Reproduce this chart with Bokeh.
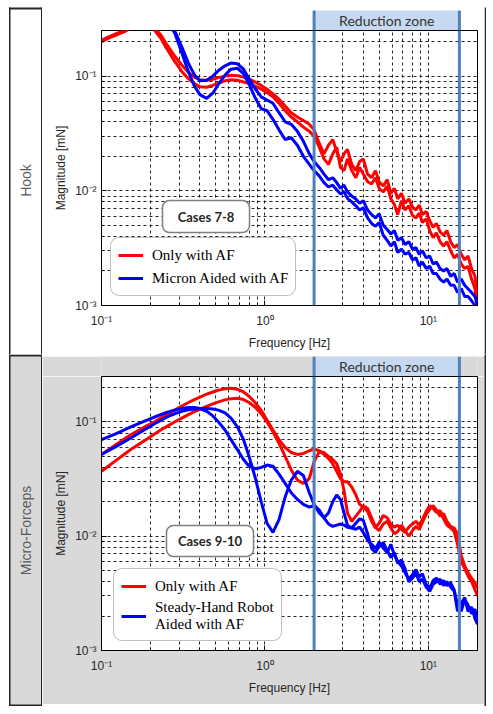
import math
from bokeh.plotting import figure
from bokeh.models import (FixedTicker, Range1d, BoxAnnotation, Label, Legend, LegendItem, Span)
from bokeh.layouts import column, row
from bokeh.embed import file_html
from bokeh.resources import INLINE

# ---------------- data ----------------
freq = [0.10, 0.11, 0.12, 0.13, 0.14, 0.15, 0.17, 0.19, 0.21, 0.23,
        0.25, 0.28, 0.31, 0.34, 0.37, 0.40, 0.44, 0.48, 0.52, 0.57,
        0.62, 0.68, 0.74, 0.80, 0.87, 0.95, 1.03, 1.12, 1.22, 1.33,
        1.45, 1.58, 1.72, 1.87, 2.00, 2.15, 2.30, 2.45, 2.60, 2.75,
        2.90, 3.05, 3.20, 3.40, 3.60, 3.80, 4.00, 4.25, 4.50, 4.75,
        5.00, 5.30, 5.60, 5.90, 6.20, 6.50, 6.85, 7.20, 7.60, 8.00,
        8.40, 8.80, 9.20, 9.70, 10.2, 10.7, 11.2, 11.8, 12.4, 13.0,
        13.7, 14.4, 15.1, 15.9, 16.7, 17.5, 18.4, 19.3, 20.0]

# Hook (cases 7-8)
hook_af_a = [0.206, 0.219, 0.231, 0.242, 0.252, 0.27, 0.30, 0.29, 0.265, 0.23,
             0.19, 0.15, 0.125, 0.108, 0.098, 0.093, 0.092, 0.094, 0.097, 0.100,
             0.102, 0.101, 0.098, 0.094, 0.089, 0.083, 0.077, 0.070, 0.063, 0.055,
             0.048, 0.044, 0.041, 0.038, 0.034, 0.026, 0.021, 0.025, 0.028, 0.022,
             0.018, 0.021, 0.023, 0.017, 0.015, 0.018, 0.019, 0.014, 0.013, 0.015,
             0.012, 0.011, 0.0125, 0.0095, 0.0105, 0.0085, 0.0095, 0.0078, 0.0085, 0.0072,
             0.0068, 0.0075, 0.0062, 0.0066, 0.0055, 0.0048, 0.0052, 0.0044, 0.0041, 0.0045,
             0.0036, 0.0032, 0.0034, 0.0028, 0.0025, 0.0027, 0.0021, 0.0018, 0.0012]
hook_af_b = [0.200, 0.213, 0.225, 0.236, 0.246, 0.262, 0.29, 0.28, 0.255, 0.215,
             0.175, 0.135, 0.110, 0.095, 0.086, 0.081, 0.080, 0.083, 0.087, 0.091,
             0.093, 0.092, 0.089, 0.086, 0.082, 0.077, 0.072, 0.066, 0.058, 0.050,
             0.044, 0.040, 0.036, 0.033, 0.030, 0.024, 0.019, 0.017, 0.021, 0.024,
             0.016, 0.015, 0.019, 0.015, 0.013, 0.016, 0.014, 0.012, 0.0115, 0.013,
             0.0105, 0.0098, 0.011, 0.0085, 0.0076, 0.0062, 0.0082, 0.0068, 0.0074, 0.0061,
             0.0058, 0.0064, 0.0053, 0.0057, 0.0045, 0.0039, 0.0043, 0.0036, 0.0033, 0.0036,
             0.0030, 0.0026, 0.0028, 0.0023, 0.0021, 0.0022, 0.0017, 0.0014, 0.0010]
hook_micron_a = [0.45, 0.46, 0.47, 0.47, 0.46, 0.45, 0.44, 0.42, 0.39, 0.35,
                 0.32, 0.25, 0.18, 0.13, 0.103, 0.091, 0.092, 0.100, 0.112, 0.123,
                 0.130, 0.128, 0.115, 0.095, 0.078, 0.066, 0.062, 0.058, 0.048, 0.040,
                 0.038, 0.033, 0.027, 0.021, 0.018, 0.016, 0.014, 0.0125, 0.013, 0.0118,
                 0.0105, 0.0112, 0.0098, 0.0090, 0.0085, 0.0078, 0.0082, 0.0068, 0.0062, 0.0058,
                 0.0063, 0.0050, 0.0046, 0.0042, 0.0045, 0.0037, 0.0039, 0.0034, 0.0036, 0.0031,
                 0.0032, 0.0028, 0.0030, 0.0026, 0.0027, 0.0023, 0.0024, 0.0021, 0.0020, 0.0021,
                 0.0018, 0.0019, 0.0016, 0.0017, 0.0015, 0.0014, 0.0013, 0.0012, 0.0010]
hook_micron_b = [0.42, 0.43, 0.44, 0.44, 0.43, 0.42, 0.41, 0.39, 0.36, 0.33,
                 0.30, 0.24, 0.16, 0.11, 0.082, 0.069, 0.064, 0.071, 0.085, 0.102,
                 0.115, 0.117, 0.105, 0.085, 0.065, 0.052, 0.050, 0.042, 0.034, 0.028,
                 0.029, 0.025, 0.020, 0.017, 0.015, 0.0135, 0.0118, 0.0108, 0.0112, 0.0102,
                 0.0094, 0.0098, 0.0086, 0.0080, 0.0074, 0.0068, 0.0071, 0.0058, 0.0052, 0.0049,
                 0.0053, 0.0041, 0.0037, 0.0033, 0.0036, 0.0029, 0.0031, 0.0028, 0.0029, 0.0025,
                 0.0026, 0.0022, 0.0024, 0.0021, 0.0022, 0.0019, 0.0019, 0.0017, 0.0016, 0.0017,
                 0.0015, 0.0015, 0.0013, 0.0014, 0.0012, 0.0012, 0.0011, 0.0010, 0.0009]

# Micro-Forceps (cases 9-10)
forceps_af_a = [0.052, 0.057, 0.062, 0.067, 0.072, 0.077, 0.085, 0.093, 0.100, 0.108,
                0.116, 0.127, 0.138, 0.148, 0.157, 0.165, 0.175, 0.183, 0.190, 0.195,
                0.197, 0.193, 0.183, 0.168, 0.148, 0.126, 0.104, 0.085, 0.070, 0.060,
                0.054, 0.052, 0.053, 0.056, 0.058, 0.056, 0.052, 0.048, 0.043, 0.037,
                0.032, 0.030, 0.030, 0.027, 0.023, 0.019, 0.018, 0.0165, 0.0135, 0.0118,
                0.0130, 0.0152, 0.0145, 0.0128, 0.0120, 0.0125, 0.0115, 0.0108, 0.0120, 0.0128,
                0.0135, 0.0125, 0.0140, 0.0165, 0.0185, 0.0175, 0.0162, 0.0168, 0.0142, 0.0125,
                0.0118, 0.0110, 0.0085, 0.0060, 0.0052, 0.0045, 0.0040, 0.0034, 0.0030]
forceps_af_b = [0.037, 0.041, 0.045, 0.049, 0.053, 0.057, 0.064, 0.071, 0.078, 0.085,
                0.091, 0.100, 0.108, 0.116, 0.123, 0.129, 0.137, 0.144, 0.150, 0.156,
                0.160, 0.161, 0.157, 0.148, 0.135, 0.118, 0.100, 0.082, 0.065, 0.050,
                0.038, 0.031, 0.029, 0.032, 0.045, 0.055, 0.054, 0.050, 0.047, 0.043,
                0.035, 0.025, 0.016, 0.0135, 0.015, 0.0165, 0.0185, 0.0175, 0.0145, 0.0120,
                0.0112, 0.0128, 0.0135, 0.0118, 0.0105, 0.0110, 0.0125, 0.0112, 0.0100, 0.0112,
                0.0122, 0.0115, 0.0132, 0.0155, 0.0172, 0.0185, 0.0170, 0.0150, 0.0158, 0.0135,
                0.0122, 0.0118, 0.0105, 0.0068, 0.0055, 0.0048, 0.0043, 0.0039, 0.0035]
forceps_shr_a = [0.070, 0.074, 0.078, 0.082, 0.086, 0.090, 0.097, 0.104, 0.110, 0.116,
                 0.121, 0.127, 0.131, 0.134, 0.134, 0.131, 0.124, 0.113, 0.100, 0.085,
                 0.070, 0.057, 0.047, 0.041, 0.039, 0.040, 0.042, 0.041, 0.035, 0.029,
                 0.024, 0.021, 0.019, 0.018, 0.0185, 0.017, 0.0145, 0.0128, 0.0122, 0.0125,
                 0.0128, 0.0125, 0.0120, 0.0118, 0.0115, 0.0120, 0.0108, 0.0092, 0.0085, 0.0078,
                 0.0088, 0.0079, 0.0072, 0.0085, 0.0068, 0.0060, 0.0055, 0.0048, 0.0042, 0.0046,
                 0.0051, 0.0044, 0.0047, 0.0038, 0.0035, 0.0041, 0.0043, 0.0038, 0.0041, 0.0037,
                 0.0039, 0.0034, 0.0025, 0.0022, 0.0028, 0.0025, 0.0021, 0.0023, 0.0018]
forceps_shr_b = [0.052, 0.056, 0.060, 0.064, 0.068, 0.072, 0.080, 0.088, 0.096, 0.103,
                 0.110, 0.118, 0.124, 0.128, 0.130, 0.131, 0.131, 0.130, 0.127, 0.120,
                 0.108, 0.090, 0.070, 0.050, 0.033, 0.020, 0.013, 0.0108, 0.014, 0.022,
                 0.031, 0.037, 0.034, 0.024, 0.019, 0.016, 0.0145, 0.016, 0.020, 0.023,
                 0.021, 0.016, 0.0125, 0.0118, 0.013, 0.0142, 0.0138, 0.0105, 0.0078, 0.0072,
                 0.0082, 0.0088, 0.0075, 0.0065, 0.0072, 0.0058, 0.0062, 0.0052, 0.0040, 0.0043,
                 0.0048, 0.0040, 0.0042, 0.0036, 0.0033, 0.0038, 0.0040, 0.0042, 0.0037, 0.0040,
                 0.0036, 0.0033, 0.0022, 0.0026, 0.0029, 0.0022, 0.0024, 0.0019, 0.0017]

x_ticks = [0.1, 1, 10]
x_tick_labels = ["10\u207b\u00b9", "10\u2070", "10\u00b9"]
x_minor = [0.2, 0.3, 0.4, 0.5, 0.6, 0.7, 0.8, 0.9, 2, 3, 4, 5, 6, 7, 8, 9, 20]
y_ticks = [0.001, 0.01, 0.1]
y_tick_labels = ["10\u207b\u00b3", "10\u207b\u00b2", "10\u207b\u00b9"]
y_minor = [0.002, 0.003, 0.004, 0.005, 0.006, 0.007, 0.008, 0.009,
           0.02, 0.03, 0.04, 0.05, 0.06, 0.07, 0.08, 0.09, 0.2]
reduction_zone = [2.0, 15.5]
x_limits = [0.1, 20]
y_limits = [0.001, 0.25]

# ---------------- styling / layout constants ----------------
RED = "#ff0000"
BLUE = "#0000ff"
ZONE_LINE = "#4f81bd"
ZONE_FILL = "#c6d9f1"
FRAME = "#262626"
PANEL_GRAY = "#d9d9d9"

SIDE_W = 42        # side label column (page x 0..42)
MID_W = 442        # plots column (page x 42..484)
STRIP_W = 2        # right border strip (page x 484..486)
PLOT_L = 59        # frame left inside middle column  -> page x 101
PLOT_R = 7         # frame right margin               -> page x 477

HAS_BR_BOX = "border_radius" in BoxAnnotation.properties()
HAS_BR_LEG = "border_radius" in Legend.properties()


def blank(w, h, bg="white"):
    p = figure(width=w, height=h, x_range=Range1d(0, 1), y_range=Range1d(0, 1),
               x_axis_location=None, y_axis_location=None,
               output_backend="svg", toolbar_location=None, min_border=0)
    p.min_border_left = p.min_border_right = p.min_border_top = p.min_border_bottom = 0
    p.outline_line_color = None
    p.background_fill_color = bg
    p.border_fill_color = bg
    p.grid.visible = False
    return p


def sbox(p, l, r, b, t, color=FRAME, xunits="screen", **kw):
    args = dict(left=l, right=r, bottom=b, top=t, left_units=xunits, right_units=xunits,
                bottom_units="screen", top_units="screen", fill_color=color, fill_alpha=1,
                line_alpha=0)
    args.update(kw)
    ba = BoxAnnotation(**args)
    p.add_layout(ba)
    return ba


def side(h, text, text_y, gray, top_y, bottom_y):
    # top_y / bottom_y: border line positions in pixels from the figure top
    p = blank(SIDE_W, h)
    low = h - bottom_y - 2 if bottom_y is not None else 0
    if gray:
        sbox(p, 9, SIDE_W, low, h - top_y, color=PANEL_GRAY)
    sbox(p, 8.5, 10, low, h - top_y)                       # outer left line
    sbox(p, SIDE_W - 1.5, SIDE_W, low, h - top_y)          # column divider
    sbox(p, 8.5, SIDE_W, h - top_y - 2, h - top_y)          # top line
    if bottom_y is not None:
        sbox(p, 8.5, SIDE_W, low, low + 2)                  # bottom line
    p.add_layout(Label(x=25, y=h - text_y, x_units="screen", y_units="screen", text=text,
                       angle=math.pi / 2, text_align="center", text_baseline="middle",
                       text_font="Liberation Sans", text_font_size="14px", text_color="#595959"))
    return p


def header(h, bg, zone_top):
    p = figure(width=MID_W, height=h, x_axis_type="log", x_range=Range1d(*x_limits),
               y_range=Range1d(0, 1), x_axis_location=None, y_axis_location=None,
               output_backend="svg", toolbar_location=None,
               min_border_left=PLOT_L, min_border_right=PLOT_R, min_border_top=0,
               min_border_bottom=0)
    p.outline_line_color = None
    p.background_fill_color = bg
    p.border_fill_color = bg
    p.grid.visible = False
    sbox(p, reduction_zone[0], reduction_zone[1], -1, h - zone_top, color=ZONE_FILL, xunits="data")
    for zx in reduction_zone:
        sbox(p, zx, zx, -1, h - zone_top, xunits="data", fill_alpha=0,
             line_color=ZONE_LINE, line_alpha=1, line_width=3)
    p.add_layout(Label(x=math.sqrt(reduction_zone[0] * reduction_zone[1]), y=(h - zone_top) / 2,
                       x_units="data", y_units="screen", text="Reduction zone",
                       text_align="center", text_baseline="middle",
                       text_font="Lato", text_font_size="14px", text_color="#333333"))
    return p


def plot(height, mb_bottom, bg, series, labels, leg_loc, cases_text, cases_rect):
    p = figure(width=MID_W, height=height, x_axis_type="log", y_axis_type="log",
               x_range=Range1d(*x_limits), y_range=Range1d(*y_limits),
               output_backend="svg", toolbar_location=None,
               min_border_left=PLOT_L, min_border_right=PLOT_R, min_border_top=0,
               min_border_bottom=mb_bottom)
    p.border_fill_color = bg
    p.background_fill_color = "white"
    p.outline_line_color = "black"
    p.outline_line_width = 1

    xt = FixedTicker(ticks=x_ticks, minor_ticks=x_minor)
    yt = FixedTicker(ticks=y_ticks, minor_ticks=y_minor)
    p.xaxis.ticker = xt
    p.yaxis.ticker = yt
    p.xgrid.ticker = xt
    p.ygrid.ticker = yt
    xo, yo = {}, {}
    for t, s in zip(x_ticks, x_tick_labels):
        xo[t] = s
        xo[str(t)] = s
    for t, s in zip(y_ticks, y_tick_labels):
        yo[t] = s
        yo[str(t)] = s
    p.xaxis.major_label_overrides = xo
    p.yaxis.major_label_overrides = yo

    for ax in (p.xaxis, p.yaxis):
        ax.axis_line_color = "black"
        ax.major_tick_in = 5
        ax.major_tick_out = 0
        ax.minor_tick_in = 3
        ax.minor_tick_out = 0
        ax.major_tick_line_color = "black"
        ax.minor_tick_line_color = "black"
        ax.major_label_text_font = "Liberation Sans"
        ax.major_label_text_font_size = "12px"
        ax.major_label_text_color = "#262626"
        ax.axis_label_text_font = "Liberation Sans"
        ax.axis_label_text_font_size = "12px"
        ax.axis_label_text_font_style = "normal"
        ax.axis_label_text_color = "#262626"
    p.xaxis.axis_label = "Frequency [Hz]"
    p.yaxis.axis_label = "Magnitude [mN]"
    p.xaxis.major_label_standoff = 8
    p.yaxis.major_label_standoff = 5
    p.xaxis.axis_label_standoff = 5
    p.yaxis.axis_label_standoff = 4

    for g in (p.xgrid, p.ygrid):
        g.grid_line_color = "black"
        g.grid_line_dash = "3 3"
        g.grid_line_alpha = 0.85
        g.minor_grid_line_color = "black"
        g.minor_grid_line_dash = "3 3"
        g.minor_grid_line_alpha = 0.85

    rends = []
    for ys, col in series:
        rends.append(p.line(freq, ys, line_color=col, line_width=3))

    for zx in reduction_zone:
        p.add_layout(Span(location=zx, dimension="height", line_color=ZONE_LINE, line_width=3))

    # "Cases" box
    cl, cr, cb, ct = cases_rect
    kw = dict(fill_color="white", fill_alpha=1, line_color="#7f7f7f", line_alpha=1, line_width=1.5)
    if HAS_BR_BOX:
        kw["border_radius"] = 7
    sbox(p, cl, cr, cb, ct, **kw)
    p.add_layout(Label(x=(cl + cr) / 2, y=(cb + ct) / 2, x_units="screen", y_units="screen",
                       text=cases_text, text_align="center", text_baseline="middle",
                       text_font="Lato", text_font_size="13px", text_font_style="bold",
                       text_color="#262626"))

    items = [LegendItem(label=labels[0], renderers=[rends[0]]),
             LegendItem(label=labels[1], renderers=[rends[2]])]
    leg = Legend(items=items, location=leg_loc)
    leg.label_text_font = "Liberation Serif"
    leg.label_text_font_size = "15px"
    leg.label_text_color = "black"
    leg.label_text_line_height = 1.3
    leg.glyph_width = 25
    leg.glyph_height = 20
    leg.label_height = 20
    leg.label_standoff = 9
    leg.padding = 7
    leg.spacing = 3
    leg.border_line_color = "#7f7f7f"
    leg.border_line_width = 1.5
    leg.background_fill_color = "white"
    leg.background_fill_alpha = 1
    if HAS_BR_LEG:
        leg.border_radius = 9
    p.add_layout(leg)
    return p


# ---------------- top panel (page y 0..354) ----------------
side_top = side(354, "Hook", 180, False, 7, None)
top_gap = blank(MID_W, 7)
top_line = blank(MID_W, 2, bg=FRAME)
hdr_top = header(21, "white", 1)
plot_top = plot(324, 49, "white",
                [(hook_af_a, RED), (hook_af_b, RED), (hook_micron_a, BLUE), (hook_micron_b, BLUE)],
                ["Only with AF", "Micron Aided with AF"], (9, 9), "Cases 7-8", (61, 148, 73, 105))
strip_top = blank(STRIP_W, 354)
sbox(strip_top, 0, STRIP_W, 0, 354 - 7)

# ---------------- bottom panel (page y 354..706) ----------------
side_bot = side(352, "Micro-Forceps", 176, True, 0, 350)
mid_line = blank(MID_W, 2, bg=FRAME)
hdr_bot = header(20, PANEL_GRAY, 0)
plot_bot = plot(328, 54, PANEL_GRAY,
                [(forceps_af_a, RED), (forceps_af_b, RED), (forceps_shr_a, BLUE), (forceps_shr_b, BLUE)],
                ["Only with AF", "Steady-Hand Robot\nAided with AF"], (12, 9), "Cases 9-10",
                (65, 152, 94, 125))
bottom_line = blank(MID_W, 2, bg=FRAME)
strip_bot = blank(STRIP_W, 352, bg=FRAME)

layout = column(
    row(side_top, column(top_gap, top_line, hdr_top, plot_top, spacing=0), strip_top, spacing=0),
    row(side_bot, column(mid_line, hdr_bot, plot_bot, bottom_line, spacing=0), strip_bot, spacing=0),
    spacing=0,
)
open("out.html", "w").write(file_html(layout, INLINE))
